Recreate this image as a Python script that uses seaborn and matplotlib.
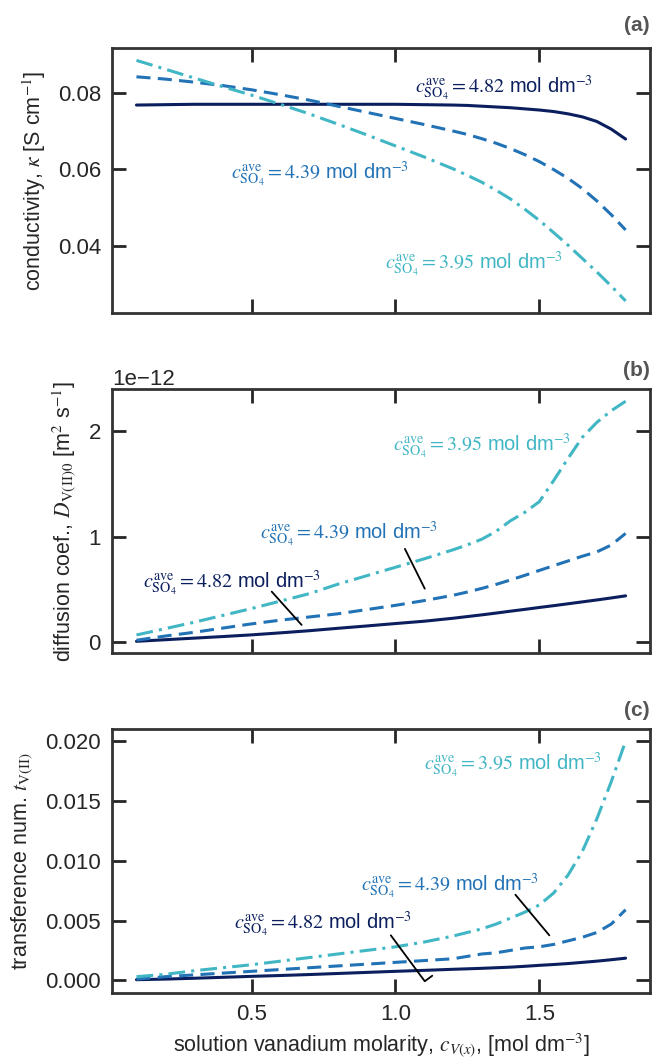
import numpy as np
import pandas as pd
import matplotlib
matplotlib.use("Agg")
import matplotlib.pyplot as plt
import seaborn as sns

# ---- data -------------------------------------------------------------
c_v = [0.1, 0.2, 0.3, 0.4, 0.5, 0.6, 0.7, 0.8, 0.9, 1.0, 1.1, 1.2,
       1.25, 1.3, 1.35, 1.4, 1.45, 1.5, 1.55, 1.6, 1.65, 1.7, 1.75, 1.8]

series_names = ["4.82", "4.39", "3.95"]

# conductivity [S cm^-1]
kappa_482 = [0.0768, 0.0769, 0.0770, 0.0770, 0.0770, 0.0770, 0.0770, 0.0770, 0.0770,
             0.0770, 0.0769, 0.0768, 0.0767, 0.0765, 0.0763, 0.0761, 0.0758, 0.0755,
             0.0751, 0.0745, 0.0737, 0.0725, 0.0705, 0.0679]
kappa_439 = [0.0842, 0.0836, 0.0828, 0.0819, 0.0808, 0.0795, 0.0781, 0.0765, 0.0749,
             0.0733, 0.0717, 0.0700, 0.0691, 0.0680, 0.0668, 0.0654, 0.0638, 0.0620,
             0.0599, 0.0576, 0.0549, 0.0517, 0.0481, 0.0441]
kappa_395 = [0.0885, 0.0862, 0.0839, 0.0816, 0.0794, 0.0770, 0.0745, 0.0718, 0.0690,
             0.0661, 0.0632, 0.0601, 0.0584, 0.0566, 0.0545, 0.0522, 0.0495, 0.0466,
             0.0434, 0.0401, 0.0366, 0.0331, 0.0294, 0.0255]

# diffusion coefficient, in units of 1e-12 m^2 s^-1
diff_482 = [0.010, 0.025, 0.040, 0.055, 0.071, 0.090, 0.110, 0.133, 0.155, 0.178,
            0.200, 0.228, 0.244, 0.260, 0.277, 0.295, 0.312, 0.330, 0.347, 0.365,
            0.383, 0.401, 0.420, 0.440]
diff_439 = [0.020, 0.060, 0.095, 0.135, 0.175, 0.210, 0.240, 0.270, 0.310, 0.350,
            0.395, 0.445, 0.476, 0.510, 0.548, 0.590, 0.634, 0.680, 0.725, 0.770,
            0.815, 0.855, 0.920, 1.030]
diff_395 = [0.070, 0.130, 0.190, 0.255, 0.320, 0.390, 0.460, 0.550, 0.630, 0.710,
            0.790, 0.875, 0.922, 0.975, 1.050, 1.150, 1.230, 1.330, 1.530, 1.740,
            1.940, 2.080, 2.190, 2.280]
diff_scale = 1e-12

# transference number
trans_482 = [0.00005, 0.00010, 0.00017, 0.00025, 0.00033, 0.00040, 0.00048, 0.00057,
             0.00066, 0.00075, 0.00083, 0.00092, 0.00096, 0.00100, 0.00105, 0.00110,
             0.00117, 0.00125, 0.00132, 0.00140, 0.00150, 0.00160, 0.00172, 0.00185]
trans_439 = [0.00010, 0.00030, 0.00045, 0.00060, 0.00075, 0.00090, 0.00105, 0.00120,
             0.00135, 0.00150, 0.00165, 0.00180, 0.00200, 0.00220, 0.00230, 0.00250,
             0.00270, 0.00280, 0.00300, 0.00330, 0.00360, 0.00400, 0.00470, 0.00590]
trans_395 = [0.00030, 0.00050, 0.00080, 0.00105, 0.00130, 0.00160, 0.00190, 0.00220,
             0.00250, 0.00280, 0.00320, 0.00370, 0.00400, 0.00430, 0.00470, 0.00520,
             0.00570, 0.00630, 0.00730, 0.00880, 0.01080, 0.01350, 0.01660, 0.02000]

x_ticks = [0.5, 1.0, 1.5]
kappa_ticks = [0.04, 0.06, 0.08]
diff_ticks = [0.0, 1e-12, 2e-12]
trans_ticks = [0.0, 0.005, 0.010, 0.015, 0.020]

# label anchors (x, y) in data units for each series: 4.82, 4.39, 3.95
kappa_label_pos = [(1.067, 0.0811), (0.428, 0.0586), (0.963, 0.0350)]
diff_label_pos = [(0.124, 0.56e-12), (0.529, 1.018e-12), (0.992, 1.853e-12)]
trans_label_pos = [(0.439, 0.00468), (0.880, 0.0079), (1.099, 0.01801)]

# leader lines
diff_leader_482 = ([0.570, 0.674], [0.48e-12, 0.165e-12])
diff_leader_439 = ([1.033, 1.102], [0.884e-12, 0.508e-12])
trans_leader_482 = ([0.984, 1.102, 1.128], [0.00376, -0.00008, 0.00038])
trans_leader_439 = ([1.417, 1.535], [0.00716, 0.00376])

# ---- style ------------------------------------------------------------
sns.set_style("ticks")
plt.rcParams["font.family"] = ["Liberation Sans", "DejaVu Sans"]
plt.rcParams["mathtext.fontset"] = "stix"
plt.rcParams["axes.edgecolor"] = "#333333"
plt.rcParams["axes.linewidth"] = 2.0
plt.rcParams["text.color"] = "#262626"
plt.rcParams["axes.labelcolor"] = "#262626"

colors = ["#0b1f5e", "#2272b6", "#41b6c4"]
styles = ["-", (0, (4.6, 2.4)), (0, (5.5, 2.0, 1.0, 2.0))]

TICK_FS = 16
LABEL_FS = 15.5
NOTE_FS = 14.5

fig = plt.figure(figsize=(6.52, 10.58), dpi=100)
ax_a = fig.add_axes([0.1718, 0.7042, 0.8252, 0.2501])
ax_b = fig.add_axes([0.1718, 0.3825, 0.8252, 0.2496])
ax_c = fig.add_axes([0.1718, 0.0612, 0.8252, 0.2496])


def draw(ax, ys, scale=1.0):
    for name, y, col, ls in zip(series_names, ys, colors, styles):
        df = pd.DataFrame({"c": c_v, "v": np.asarray(y) * scale})
        sns.lineplot(data=df, x="c", y="v", ax=ax, color=col, linestyle=ls,
                     linewidth=2.2, estimator=None, sort=False)


def label_text(ax, pos_list):
    for name, (x, y), col in zip(series_names, pos_list, colors):
        ax.text(x, y, r"$c_{\mathrm{SO_4}}^{\mathrm{ave}}=" + name + r"$ mol dm$^{-3}$",
                color=col, fontsize=NOTE_FS, ha="left", va="center")


def style_axes(ax, yticks, panel, dy):
    ax.set_xticks(x_ticks)
    ax.set_yticks(yticks)
    ax.tick_params(direction="in", length=10, width=2, top=True, right=True,
                   labelsize=TICK_FS, pad=8, colors="#262626")
    ax.text(1.0, 1.0 + dy / 264.5, panel, transform=ax.transAxes, ha="right",
            va="center", fontsize=15, fontweight="bold", color="#555555")


draw(ax_a, [kappa_482, kappa_439, kappa_395])
draw(ax_b, [diff_482, diff_439, diff_395], diff_scale)
draw(ax_c, [trans_482, trans_439, trans_395])

label_text(ax_a, kappa_label_pos)
label_text(ax_b, diff_label_pos)
label_text(ax_c, trans_label_pos)

for ax, (lx, ly) in [(ax_b, diff_leader_482), (ax_b, diff_leader_439),
                     (ax_c, trans_leader_482), (ax_c, trans_leader_439)]:
    ax.plot(lx, ly, color="black", linewidth=1.3)

style_axes(ax_a, kappa_ticks, "(a)", 23)
style_axes(ax_b, diff_ticks, "(b)", 19)
style_axes(ax_c, trans_ticks, "(c)", 19)

ax_b.yaxis.get_offset_text().set_fontsize(TICK_FS)

for ax in (ax_a, ax_b):
    ax.set_xlabel("")
    ax.tick_params(labelbottom=False)

ax_a.set_ylabel(r"conductivity, $\kappa$ [S cm$^{-1}$]", fontsize=LABEL_FS, labelpad=7)
ax_b.set_ylabel(r"diffusion coef., $D_{\mathrm{V(II)0}}$ [m$^{2}$ s$^{-1}$]",
                fontsize=LABEL_FS, labelpad=7)
ax_c.set_ylabel(r"transference num. $t_{\mathrm{V(II)}}$", fontsize=LABEL_FS, labelpad=7)
ax_c.set_xlabel(r"solution vanadium molarity, $c_{V(x)}$, [mol dm$^{-3}$]",
                fontsize=LABEL_FS, labelpad=4)

fig.savefig("out.png", dpi=100)
